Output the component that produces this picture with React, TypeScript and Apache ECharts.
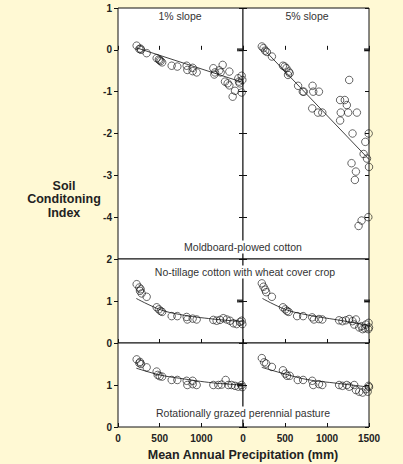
import React, { useEffect, useRef } from "react";
import * as echarts from "echarts";

// ---- data (x: mm, y: index) ----
const moldboard1Pct: number[][] = [
  [224, 0.1], [256, 0.02], [276, 0.0], [270, 0.03], [344, -0.08], [464, -0.2], [490, -0.23], [512, -0.27],
  [530, -0.3], [500, -0.25], [644, -0.38], [712, -0.4], [824, -0.38], [832, -0.48], [896, -0.43], [896, -0.51],
  [944, -0.54], [1144, -0.44], [1164, -0.54], [1156, -0.59], [1216, -0.49], [1256, -0.36], [1232, -0.54],
  [1336, -0.52], [1284, -0.76], [1316, -0.8], [1336, -0.85], [1376, -1.12], [1404, -0.98], [1444, -0.68],
  [1484, -0.62], [1460, -0.8], [1484, -1.02], [1492, -0.72], [1452, -0.76],
];
const moldboard5Pct: number[][] = [
  [224, 0.08], [244, 0.04], [264, -0.02], [284, -0.05], [344, -0.16], [476, -0.38], [496, -0.4], [516, -0.44],
  [544, -0.52], [536, -0.6], [556, -0.56], [656, -0.86], [712, -1.0], [724, -1.0], [828, -0.86], [836, -1.0],
  [904, -1.0], [824, -1.4], [892, -1.5], [944, -1.5], [1264, -0.72], [1156, -1.2], [1212, -1.2], [1236, -1.32],
  [1164, -1.5], [1252, -1.5], [1356, -1.5], [1156, -1.69], [1304, -2.0], [1496, -2.0], [1456, -2.2],
  [1436, -2.49], [1476, -2.6], [1500, -2.8], [1292, -2.71], [1344, -2.91], [1332, -3.11], [1492, -4.0],
  [1412, -4.08], [1376, -4.21],
];
const noTill1Pct: number[][] = [
  [224, 1.4], [256, 1.32], [264, 1.24], [272, 1.28], [284, 1.18], [344, 1.1], [464, 0.85], [490, 0.8],
  [512, 0.76], [530, 0.74], [644, 0.64], [712, 0.64], [824, 0.62], [832, 0.56], [896, 0.58], [944, 0.56],
  [1144, 0.55], [1184, 0.53], [1224, 0.55], [1264, 0.59], [1304, 0.56], [1344, 0.53], [1384, 0.47],
  [1424, 0.45], [1464, 0.5], [1484, 0.53], [1492, 0.45],
];
const noTill5Pct: number[][] = [
  [224, 1.42], [244, 1.34], [264, 1.27], [276, 1.21], [344, 1.1], [476, 0.85], [504, 0.8], [524, 0.76],
  [544, 0.74], [644, 0.64], [716, 0.64], [824, 0.61], [844, 0.56], [904, 0.57], [944, 0.56], [1144, 0.54],
  [1184, 0.52], [1224, 0.54], [1264, 0.57], [1304, 0.52], [1344, 0.56], [1324, 0.44], [1384, 0.37],
  [1424, 0.33], [1464, 0.44], [1495, 0.48], [1492, 0.33], [1452, 0.35], [1500, 0.37], [1412, 0.4],
];
const pasture1Pct: number[][] = [
  [224, 1.61], [256, 1.52], [276, 1.5], [264, 1.55], [344, 1.42], [464, 1.32], [476, 1.24], [500, 1.21],
  [530, 1.2], [644, 1.12], [712, 1.12], [824, 1.1], [832, 1.0], [896, 1.1], [896, 1.02], [944, 1.0],
  [1144, 1.0], [1204, 1.0], [1244, 1.01], [1292, 1.12], [1324, 1.0], [1364, 1.0], [1404, 0.98],
  [1444, 0.96], [1484, 1.0], [1492, 0.95],
];
const pasture5Pct: number[][] = [
  [224, 1.64], [252, 1.54], [276, 1.51], [344, 1.43], [476, 1.35], [504, 1.27], [524, 1.22], [556, 1.22],
  [652, 1.12], [716, 1.12], [824, 1.1], [836, 1.0], [904, 1.02], [944, 1.0], [1144, 1.0], [1184, 0.98],
  [1236, 1.0], [1264, 0.96], [1324, 1.0], [1344, 0.88], [1384, 0.84], [1424, 0.82], [1464, 0.9],
  [1500, 0.95], [1495, 0.98], [1484, 0.84],
];

const trendMoldboard1: number[][] = [[220, 0.05], [1500, -0.78]];
const trendMoldboard5: number[][] = [[230, 0.05], [1500, -2.62]];
const trendNoTill1: number[][] = [[220, 1.06], [500, 0.8], [740, 0.68], [1144, 0.57], [1500, 0.51]];
const trendNoTill5: number[][] = [[232, 1.06], [504, 0.8], [764, 0.67], [1124, 0.55], [1500, 0.42]];
const trendPasture1: number[][] = [[220, 1.4], [500, 1.24], [740, 1.16], [1144, 1.05], [1500, 1.0]];
const trendPasture5: number[][] = [[224, 1.42], [504, 1.26], [764, 1.13], [1124, 1.04], [1500, 0.95]];

const markers: number[][][] = [[[1464, 0]], [[1476, 0]], [[1464, 1]], [[1476, 1]], [[1464, 1]], []];

const xTicks = { min: 0, max: 1500, interval: 500 };
const yRanges = [
  { min: -5, max: 1 },
  { min: -5, max: 1 },
  { min: 0, max: 2 },
  { min: 0, max: 2 },
  { min: 0, max: 2 },
  { min: 0, max: 2 },
];
const panelLabels = [
  { text: "1% slope", x: 180, y: 16 },
  { text: "5% slope", x: 307, y: 16 },
  { text: "Moldboard-plowed cotton", x: 243, y: 247 },
  { text: "No-tillage cotton with wheat cover crop", x: 245, y: 272 },
  { text: "Rotationally grazed perennial pasture", x: 243, y: 413 },
];
const xTitle = "Mean Annual Precipitation (mm)";
const yTitle = "Soil\nConditoning\nIndex";

const FONT = "'Liberation Sans', Arial, sans-serif";

export default function App() {
  const ref = useRef<HTMLDivElement>(null);
  useEffect(() => {
    document.body.style.margin = "0";
    if (!ref.current) return;
    const chart = echarts.init(ref.current, null, { renderer: "svg" });
    const L = 118, M = 243, R = 369;
    const rows = [
      { top: 8, h: 251 },
      { top: 259, h: 84 },
      { top: 343, h: 84 },
    ];
    const grids: any[] = [];
    rows.forEach((r) => {
      grids.push({ left: L, top: r.top, width: M - L, height: r.h });
      grids.push({ left: M, top: r.top, width: R - M, height: r.h });
    });
    grids.forEach((g) => {
      g.show = true;
      g.backgroundColor = "#fff";
      g.borderColor = "#111";
      g.borderWidth = 1;
      g.containLabel = false;
    });
    const labelStyle = { fontFamily: FONT, fontWeight: "bold", fontSize: 10, color: "#222" };
    const xAxis: any[] = grids.map((_, i) => ({
      type: "value",
      gridIndex: i,
      ...xTicks,
      axisLine: { show: false },
      splitLine: { show: false },
      axisTick: { show: true, inside: true, length: 4, lineStyle: { color: "#111" } },
      axisLabel: {
        show: i >= 4,
        ...labelStyle,
        margin: 6,
        showMaxLabel: i === 5,
        formatter: (v: number) => (i === 4 && v === 1500 ? "" : String(v)),
      },
    }));
    const yAxis: any[] = [];
    const yIdx: number[] = [];
    grids.forEach((_, i) => {
      const isLeft = i % 2 === 0;
      yIdx.push(yAxis.length);
      yAxis.push({
        type: "value",
        gridIndex: i,
        position: "left",
        ...yRanges[i],
        interval: 1,
        axisLine: { show: false },
        splitLine: { show: false },
        axisTick: { show: true, inside: false, length: 4, lineStyle: { color: "#111" } },
        axisLabel: {
          show: isLeft,
          ...labelStyle,
          margin: 6,
          showMinLabel: i !== 0,
          showMaxLabel: i !== 4,
        },
      });
      yAxis.push({
        type: "value",
        gridIndex: i,
        position: "right",
        ...yRanges[i],
        interval: 1,
        axisLine: { show: false },
        splitLine: { show: false },
        axisTick: { show: true, inside: !isLeft, length: 4, lineStyle: { color: "#111" } },
        axisLabel: { show: false },
      });
    });
    const pts = [moldboard1Pct, moldboard5Pct, noTill1Pct, noTill5Pct, pasture1Pct, pasture5Pct];
    const trends = [trendMoldboard1, trendMoldboard5, trendNoTill1, trendNoTill5, trendPasture1, trendPasture5];
    const series: any[] = [];
    pts.forEach((d, i) => {
      series.push({
        type: "line",
        xAxisIndex: i,
        yAxisIndex: yIdx[i],
        data: trends[i],
        smooth: trends[i].length > 2 ? 0.4 : false,
        showSymbol: false,
        lineStyle: { color: "#111", width: 0.8 },
        z: 2,
      });
      series.push({
        type: "scatter",
        xAxisIndex: i,
        yAxisIndex: yIdx[i],
        data: d,
        symbol: "circle",
        symbolSize: 7.5,
        itemStyle: { color: "rgba(0,0,0,0)", borderColor: "#111", borderWidth: 0.8 },
        z: 3,
      });
      if (markers[i].length) {
        series.push({
          type: "scatter",
          xAxisIndex: i,
          yAxisIndex: yIdx[i],
          data: markers[i],
          symbol: "rect",
          symbolSize: [6, 3],
          itemStyle: { color: "#111" },
          z: 4,
        });
      }
    });
    const graphic: any[] = panelLabels.map((p) => ({
      type: "text",
      x: p.x,
      y: p.y,
      style: {
        text: p.text,
        fontFamily: FONT,
        fontSize: 10.5,
        fill: "#333",
        align: "center",
        verticalAlign: "middle",
        backgroundColor: "#fff",
        padding: [1, 2],
      },
      z: 10,
    }));
    graphic.push({
      type: "text",
      x: 243,
      y: 455,
      style: { text: xTitle, fontFamily: FONT, fontSize: 12.5, fontWeight: "bold", fill: "#222", align: "center", verticalAlign: "middle" },
    });
    graphic.push({
      type: "text",
      x: 64,
      y: 199,
      style: {
        text: yTitle,
        fontFamily: FONT,
        fontSize: 12.5,
        fontWeight: "bold",
        fill: "#222",
        align: "center",
        verticalAlign: "middle",
        lineHeight: 13.5,
      },
    });
    chart.setOption({
      animation: false,
      backgroundColor: "#FFF9D4",
      grid: grids,
      xAxis,
      yAxis,
      series,
      graphic,
    });
    return () => chart.dispose();
  }, []);
  return <div ref={ref} style={{ width: 403, height: 464 }} />;
}
